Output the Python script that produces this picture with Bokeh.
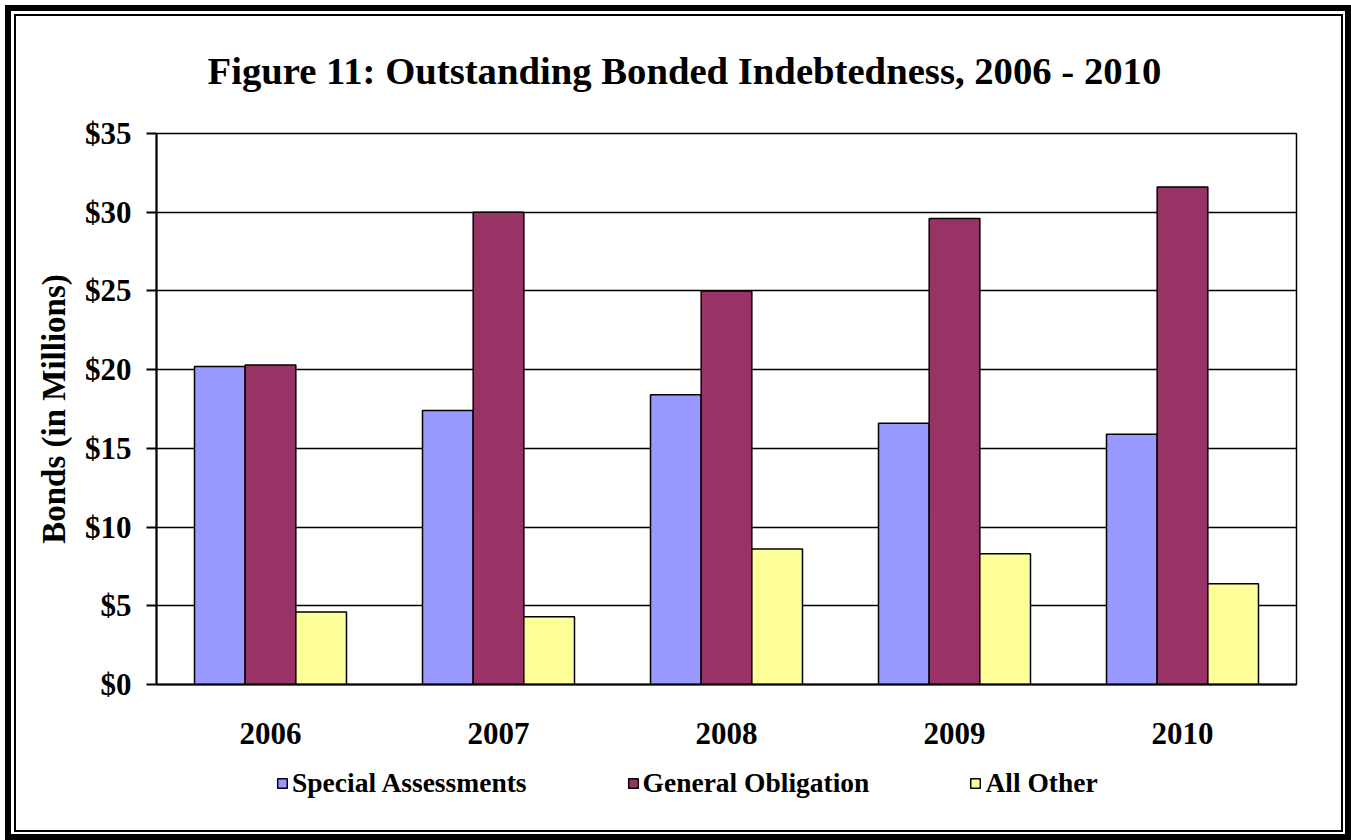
from bokeh.plotting import figure
from bokeh.layouts import column
from bokeh.models import (ColumnDataSource, FactorRange, Legend, LegendItem,
                          PrintfTickFormatter, Title, SingleIntervalTicker, Range1d)
from bokeh.transform import dodge
from bokeh.embed import file_html
from bokeh.resources import INLINE

years = ["2006", "2007", "2008", "2009", "2010"]
special_assessments = [20.2, 17.4, 18.4, 16.6, 15.9]
general_obligation = [20.3, 30.0, 25.0, 29.6, 31.6]
all_other = [4.6, 4.3, 8.6, 8.3, 6.4]
series_names = ["Special Assessments", "General Obligation", "All Other"]
series_colors = ["#9999FF", "#993366", "#FFFF99"]

src = ColumnDataSource(data=dict(x=years, sa=special_assessments,
                                 go=general_obligation, ao=all_other))

FONT = "Liberation Serif"

p = figure(x_range=FactorRange(*years, range_padding=0), y_range=(0, 35),
           frame_width=1140, frame_height=551, output_backend="svg", toolbar_location=None,
           min_border_left=156, min_border_right=55, min_border_top=133,
           min_border_bottom=76, title=None)
p.border_fill_alpha = 0
p.background_fill_color = "white"

bw = 0.2222
renderers = []
for col, off, color in zip(["sa", "go", "ao"], [-bw, 0, bw], series_colors):
    r = p.vbar(x=dodge("x", off, range=p.x_range), top=col, width=bw, source=src,
               fill_color=color, line_color="black", line_width=1.5)
    renderers.append(r)

t = Title(text="Figure 11:  Outstanding Bonded Indebtedness, 2006 - 2010",
          text_font=FONT, text_font_size="38.7px", text_font_style="bold",
          align="left", text_color="black", offset=51, standoff=84)
p.add_layout(t, "above")

# y axis
p.yaxis.ticker = SingleIntervalTicker(interval=5)
p.yaxis.formatter = PrintfTickFormatter(format="$%d")
p.yaxis.major_label_text_font = FONT
p.yaxis.major_label_text_font_size = "31px"
p.yaxis.major_label_text_font_style = "bold"
p.yaxis.major_label_text_color = "black"
p.yaxis.major_tick_out = 10
p.yaxis.major_tick_in = 0
p.yaxis.minor_tick_out = 0
p.yaxis.minor_tick_in = 0
p.yaxis.major_tick_line_color = "black"
p.yaxis.major_tick_line_width = 2
p.yaxis.axis_line_color = "black"
p.yaxis.axis_line_width = 2
p.yaxis.major_label_standoff = 15
p.yaxis.axis_label = "Bonds (in Millions)"
p.yaxis.axis_label_text_font = FONT
p.yaxis.axis_label_text_font_size = "33px"
p.yaxis.axis_label_text_font_style = "bold"
p.yaxis.axis_label_text_color = "black"
p.yaxis.axis_label_standoff = 10

# x axis
p.xaxis.major_label_text_font = FONT
p.xaxis.major_label_text_font_size = "31px"
p.xaxis.major_label_text_font_style = "bold"
p.xaxis.major_label_text_color = "black"
p.xaxis.major_tick_out = 0
p.xaxis.major_tick_in = 0
p.xaxis.axis_line_color = "black"
p.xaxis.axis_line_width = 2
p.xaxis.major_label_standoff = 38

# grid
p.xgrid.grid_line_color = None
p.ygrid.grid_line_color = "black"
p.ygrid.grid_line_width = 1.5
p.outline_line_color = "black"
p.outline_line_width = 1.5

# legend strip below the chart (its own figure so the legend is not clipped)
lg = figure(width=1351, height=80, output_backend="svg", toolbar_location=None,
            min_border=0, x_range=Range1d(0, 1), y_range=Range1d(0, 1))
lg.axis.visible = False
lg.grid.visible = False
lg.outline_line_color = None
lg.border_fill_alpha = 0
lg.background_fill_alpha = 0
# one off-screen zero-height proxy bar per series, only so the legend has swatches
proxy = ColumnDataSource(data=dict(x=[-10], top=[0]))
leg_renderers = [lg.vbar(x="x", top="top", width=0.1, source=proxy, fill_color=c,
                         line_color="black", line_width=1.5) for c in series_colors]

legend = Legend(items=[LegendItem(label=n, renderers=[r]) for n, r in zip(series_names, leg_renderers)],
                orientation="horizontal", location=(120, 41),
                label_text_font=FONT, label_text_font_size="27.5px",
                label_text_font_style="bold", label_text_color="black",
                glyph_width=12, glyph_height=12, label_standoff=4, spacing=100,
                border_line_color=None, background_fill_alpha=0, margin=0, padding=0)
lg.add_layout(legend, "center")

layout = column(p, lg, spacing=0)
# double frame around the whole chart (thick outer line, thin inner line)
layout.styles = {
    "box-shadow": ("inset 2.5px 2.5px 0 2.5px white, "
                   "inset 2.5px 2.5px 0 8.5px black, "
                   "inset 3px 3px 0 11px white, "
                   "inset 3px 3px 0 13px black"),
}

open("out.html", "w").write(file_html(layout, INLINE))
